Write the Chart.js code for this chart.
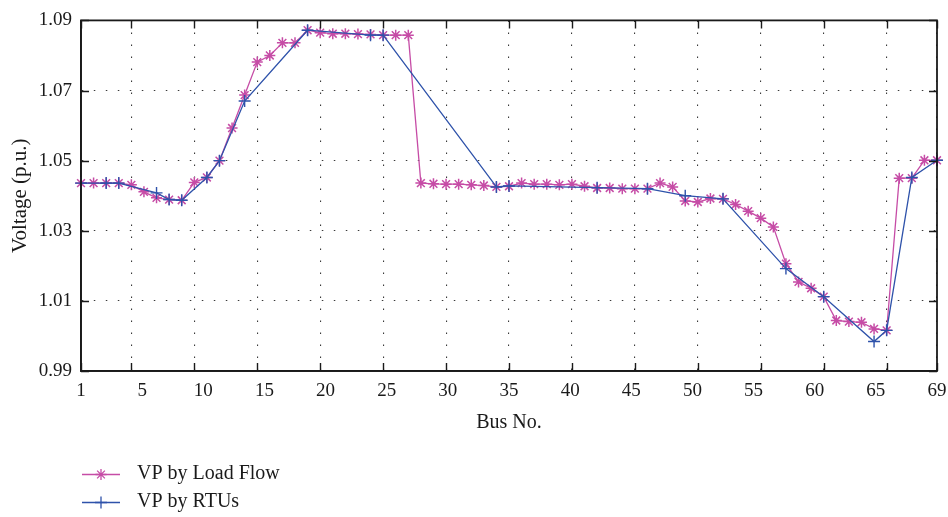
<!DOCTYPE html>
<html>
<head>
<meta charset="utf-8">
<title>Voltage profile</title>
<script src="https://cdn.jsdelivr.net/npm/chart.js@4/dist/chart.umd.min.js"></script>
<style>
    html, body { margin: 0; padding: 0; background: #fff; }
    #wrap { width: 948px; height: 517px; position: relative; }
</style>
</head>
<body>
<div id="wrap"><canvas id="voltage-chart"></canvas></div>
<script>
// bus numbers and voltages
const busNo = [1, 2, 3, 4, 5, 6, 7, 8, 9, 10, 11, 12, 13, 14, 15, 16, 17, 18, 19, 20,
    21, 22, 23, 24, 25, 26, 27, 28, 29, 30, 31, 32, 33, 34, 35, 36, 37, 38, 39, 40,
    41, 42, 43, 44, 45, 46, 47, 48, 49, 50, 51, 52, 53, 54, 55, 56, 57, 58, 59, 60,
    61, 62, 63, 64, 65, 66, 67, 68, 69];
const loadFlowV = [1.0436, 1.0436, 1.0436, 1.0436, 1.0431, 1.0411, 1.0394, 1.0389, 1.0387, 1.0438,
    1.0452, 1.0500, 1.0593, 1.0687, 1.0781, 1.0800, 1.0836, 1.0836, 1.0872, 1.0865,
    1.0862, 1.0862, 1.0861, 1.0860, 1.0858, 1.0858, 1.0858, 1.0436, 1.0434, 1.0433,
    1.0433, 1.0431, 1.0429, 1.0425, 1.0427, 1.0436, 1.0433, 1.0433, 1.0431, 1.0433,
    1.0427, 1.0422, 1.0422, 1.0420, 1.0420, 1.0420, 1.0436, 1.0425, 1.0385, 1.0382,
    1.0392, 1.0391, 1.0375, 1.0356, 1.0336, 1.0311, 1.0206, 1.0154, 1.0136, 1.0112,
    1.0044, 1.0041, 1.0039, 1.0020, 1.0016, 1.0450, 1.0450, 1.0501, 1.0501];

const rtuBus = [1, 3, 4, 7, 8, 9, 11, 12, 14, 19, 24, 25, 34, 35, 42, 46, 49, 52, 57, 60, 64, 65, 67, 69];
const rtuV = [1.0436, 1.0436, 1.0436, 1.0408, 1.0389, 1.0387, 1.0452, 1.0500, 1.0670, 1.0872,
    1.0858, 1.0858, 1.0425, 1.0428, 1.0423, 1.0420, 1.0400, 1.0391, 1.0192, 1.0112,
    0.9984, 1.0016, 1.0452, 1.0501];

const xTickValues = [1, 5, 10, 15, 20, 25, 30, 35, 40, 45, 50, 55, 60, 65, 69];
const xTickLabels = ["1", "5", "10", "15", "20", "25", "30", "35", "40", "45", "50", "55", "60", "65", "69"];
const yTickValues = [0.99, 1.01, 1.03, 1.05, 1.07, 1.09];

const seriesNames = ["VP by Load Flow", "VP by RTUs"];

const magenta = "rgb(198, 76, 166)";
const blue = "rgb(46, 82, 170)";
const serif = "'Liberation Serif', 'DejaVu Serif', serif";

function toPoints(xs, ys) {
    return xs.map((x, i) => ({ x: x, y: ys[i] }));
}

// box round the plot with short ticks pointing inwards
const framePlugin = {
    id: "frame",
    afterDraw(chart) {
        const { ctx, chartArea: a, scales } = chart;
        const len = 8;
        ctx.save();
        ctx.strokeStyle = "#1a1a1a";
        ctx.lineWidth = 1.4;
        ctx.beginPath();
        scales.x.ticks.forEach((t) => {
            const px = Math.round(scales.x.getPixelForValue(t.value)) + 0.5;
            ctx.moveTo(px, a.bottom); ctx.lineTo(px, a.bottom - len);
            ctx.moveTo(px, a.top); ctx.lineTo(px, a.top + len);
        });
        scales.y.ticks.forEach((t) => {
            const py = Math.round(scales.y.getPixelForValue(t.value)) + 0.5;
            ctx.moveTo(a.left, py); ctx.lineTo(a.left + len, py);
            ctx.moveTo(a.right, py); ctx.lineTo(a.right - len, py);
        });
        ctx.stroke();
        ctx.lineWidth = 1.8;
        ctx.strokeRect(a.left, a.top, a.right - a.left, a.bottom - a.top);
        ctx.restore();
    }
};

// legend stacked under the axis title, one row per series
const stackedLegend = {
    id: "stackedLegend",
    afterDraw(chart) {
        const ctx = chart.ctx;
        const rows = [474, 502];
        ctx.save();
        chart.data.datasets.forEach((ds, i) => {
            const y = rows[i];
            ctx.strokeStyle = ds.borderColor;
            ctx.lineWidth = 1.3;
            ctx.beginPath();
            ctx.moveTo(82, y + 0.5);
            ctx.lineTo(120, y + 0.5);
            ctx.stroke();
            Chart.helpers.drawPoint(ctx, {
                pointStyle: ds.pointStyle,
                radius: ds.pointRadius,
                borderWidth: ds.pointBorderWidth,
                rotation: 0
            }, 101, y + 0.5);
            ctx.fillStyle = "#1a1a1a";
            ctx.font = "20px " + serif;
            ctx.textBaseline = "middle";
            ctx.textAlign = "left";
            ctx.fillText(ds.label, 137, y);
        });
        ctx.restore();
    }
};

const ctx = document.getElementById("voltage-chart").getContext("2d");

new Chart(ctx, {
    type: "line",
    data: {
        datasets: [
            {
                label: seriesNames[0],
                data: toPoints(busNo, loadFlowV),
                borderColor: magenta,
                backgroundColor: magenta,
                borderWidth: 1.3,
                pointStyle: "star",
                pointRadius: 5.5,
                pointBorderWidth: 1.5,
                pointBorderColor: magenta,
                tension: 0,
                clip: false,
                order: 2
            },
            {
                label: seriesNames[1],
                data: toPoints(rtuBus, rtuV),
                borderColor: blue,
                backgroundColor: blue,
                borderWidth: 1.3,
                pointStyle: "cross",
                pointRadius: 6,
                pointBorderWidth: 1.4,
                pointBorderColor: blue,
                tension: 0,
                clip: false,
                order: 1
            }
        ]
    },
    options: {
        responsive: true,
        maintainAspectRatio: false,
        animation: false,
        layout: { padding: { left: 0, top: 15, right: 11, bottom: 82 } },
        plugins: {
            legend: { display: false },
            tooltip: { enabled: false }
        },
        scales: {
            x: {
                type: "linear",
                position: "bottom",
                weight: 0,
                min: 1,
                max: 69,
                afterBuildTicks: (scale) => {
                    scale.ticks = xTickValues.map((v) => ({ value: v }));
                },
                afterFit: (scale) => {
                    scale.height = 0;
                    scale.paddingLeft = 0;
                    scale.paddingRight = 0;
                },
                ticks: { display: false },
                grid: { color: "#3a3a3a", lineWidth: 1.1, drawTicks: false },
                border: { display: true, color: "#1a1a1a", width: 1.8, dash: [1.5, 10.5] }
            },
            xLab: {
                type: "category",
                labels: xTickLabels,
                position: "bottom",
                weight: 1,
                offset: false,
                afterFit: (scale) => {
                    scale.height = 64;
                    scale.paddingLeft = 0;
                    scale.paddingRight = 0;
                },
                grid: { display: false, drawTicks: false },
                border: { display: false },
                ticks: {
                    color: "#1a1a1a",
                    font: { family: serif, size: 19 },
                    padding: 9,
                    maxRotation: 0,
                    autoSkip: false
                },
                title: {
                    display: true,
                    text: "Bus No.",
                    color: "#1a1a1a",
                    font: { family: serif, size: 20 },
                    padding: { top: 0, bottom: 0 }
                }
            },
            y: {
                type: "linear",
                min: 0.99,
                max: 1.09,
                afterBuildTicks: (scale) => {
                    scale.ticks = yTickValues.map((v) => ({ value: v }));
                },
                afterFit: (scale) => { scale.width = 81; },
                ticks: {
                    color: "#1a1a1a",
                    font: { family: serif, size: 19 },
                    padding: 9,
                    callback: (v) => Number(v).toFixed(2)
                },
                grid: { color: "#3a3a3a", lineWidth: 1.1, drawTicks: false },
                border: { display: true, color: "#1a1a1a", width: 1.8, dash: [1.5, 10.5] },
                title: {
                    display: true,
                    text: "Voltage (p.u.)",
                    color: "#1a1a1a",
                    font: { family: serif, size: 21 },
                    padding: { top: 8, bottom: 0 }
                }
            }
        }
    },
    plugins: [framePlugin, stackedLegend]
});
</script>
</body>
</html>
